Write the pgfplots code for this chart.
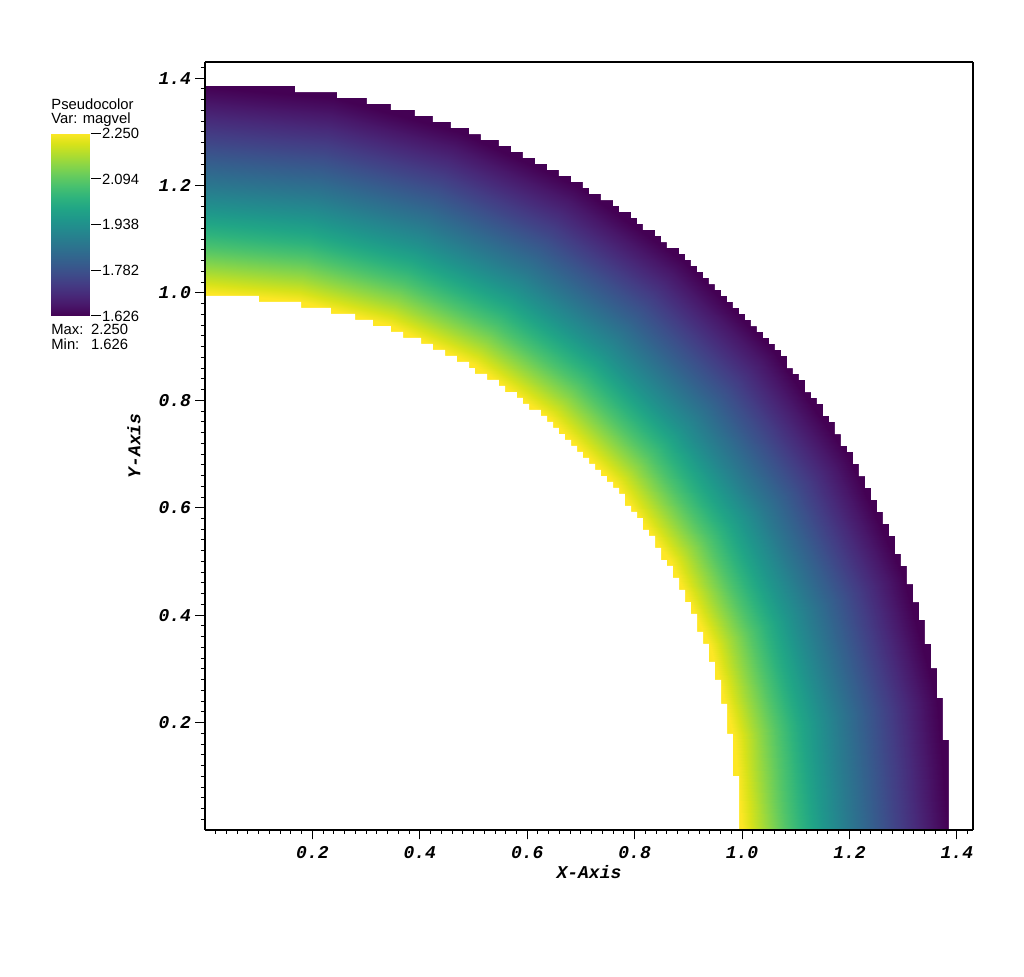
\documentclass[border=0pt]{standalone}
\usepackage{fontspec}
\setmainfont{Liberation Sans}
\newfontfamily\monofont{Liberation Mono}
\usepackage{pgfplots}
\pgfplotsset{compat=1.18}
\newcommand\tickfont{\monofont\bfseries\itshape\fontsize{9}{10}\selectfont}
\begin{document}
\begin{tikzpicture}
\begin{axis}[
  at={(0,0)}, anchor=south west,
  width=384pt, height=384pt, scale only axis,
  view={0}{90},
  xmin=0, xmax=1.43, ymin=0, ymax=1.43, zmin=-1, zmax=1,
  axis on top,
  xtick={0.2,0.4,0.6,0.8,1.0,1.2,1.4},
  xticklabels={0.2,0.4,0.6,0.8,1.0,1.2,1.4},
  ytick={0.2,0.4,0.6,0.8,1.0,1.2,1.4},
  yticklabels={0.2,0.4,0.6,0.8,1.0,1.2,1.4},
  ztick=\empty,
  minor xtick={0.02,0.04,...,1.425},
  minor ytick={0.02,0.04,...,1.425},
  xtick pos=left, ytick pos=left,
  tick align=outside,
  major tick length=4.75pt, minor tick length=2pt,
  tick style={black, line width=0.5pt},
  axis line style={line width=0.6pt},
  tick label style={font=\tickfont},
  yticklabel style={xshift=1.3pt},
  xlabel={X-Axis}, ylabel={Y-Axis},
  label style={font=\tickfont},
  xlabel style={at={(axis description cs:0.5,-0.0543)}, anchor=center},
  ylabel style={at={(axis description cs:-0.0924,0.5)}, anchor=center},
  colormap/viridis,
  point meta min=1.626, point meta max=2.25,
]
% magvel field on the annulus, sampled by radius (angle, radius, z, magvel)
\addplot3[surf, shader=interp, data cs=polar, mesh/cols=13, point meta=\thisrow{m}, forget plot] table {
t r z m
0 0.96 0 2.25
0 1.00 0 2.25
0 1.04 0 2.1635
0 1.08 0 2.0833
0 1.12 0 2.0089
0 1.16 0 1.9397
0 1.20 0 1.8750
0 1.24 0 1.8145
0 1.28 0 1.7578
0 1.32 0 1.7045
0 1.36 0 1.6544
0 1.384 0 1.626
0 1.415 0 1.626
10 0.96 0 2.25
10 1.00 0 2.25
10 1.04 0 2.1635
10 1.08 0 2.0833
10 1.12 0 2.0089
10 1.16 0 1.9397
10 1.20 0 1.8750
10 1.24 0 1.8145
10 1.28 0 1.7578
10 1.32 0 1.7045
10 1.36 0 1.6544
10 1.384 0 1.626
10 1.415 0 1.626
20 0.96 0 2.25
20 1.00 0 2.25
20 1.04 0 2.1635
20 1.08 0 2.0833
20 1.12 0 2.0089
20 1.16 0 1.9397
20 1.20 0 1.8750
20 1.24 0 1.8145
20 1.28 0 1.7578
20 1.32 0 1.7045
20 1.36 0 1.6544
20 1.384 0 1.626
20 1.415 0 1.626
30 0.96 0 2.25
30 1.00 0 2.25
30 1.04 0 2.1635
30 1.08 0 2.0833
30 1.12 0 2.0089
30 1.16 0 1.9397
30 1.20 0 1.8750
30 1.24 0 1.8145
30 1.28 0 1.7578
30 1.32 0 1.7045
30 1.36 0 1.6544
30 1.384 0 1.626
30 1.415 0 1.626
40 0.96 0 2.25
40 1.00 0 2.25
40 1.04 0 2.1635
40 1.08 0 2.0833
40 1.12 0 2.0089
40 1.16 0 1.9397
40 1.20 0 1.8750
40 1.24 0 1.8145
40 1.28 0 1.7578
40 1.32 0 1.7045
40 1.36 0 1.6544
40 1.384 0 1.626
40 1.415 0 1.626
50 0.96 0 2.25
50 1.00 0 2.25
50 1.04 0 2.1635
50 1.08 0 2.0833
50 1.12 0 2.0089
50 1.16 0 1.9397
50 1.20 0 1.8750
50 1.24 0 1.8145
50 1.28 0 1.7578
50 1.32 0 1.7045
50 1.36 0 1.6544
50 1.384 0 1.626
50 1.415 0 1.626
60 0.96 0 2.25
60 1.00 0 2.25
60 1.04 0 2.1635
60 1.08 0 2.0833
60 1.12 0 2.0089
60 1.16 0 1.9397
60 1.20 0 1.8750
60 1.24 0 1.8145
60 1.28 0 1.7578
60 1.32 0 1.7045
60 1.36 0 1.6544
60 1.384 0 1.626
60 1.415 0 1.626
70 0.96 0 2.25
70 1.00 0 2.25
70 1.04 0 2.1635
70 1.08 0 2.0833
70 1.12 0 2.0089
70 1.16 0 1.9397
70 1.20 0 1.8750
70 1.24 0 1.8145
70 1.28 0 1.7578
70 1.32 0 1.7045
70 1.36 0 1.6544
70 1.384 0 1.626
70 1.415 0 1.626
80 0.96 0 2.25
80 1.00 0 2.25
80 1.04 0 2.1635
80 1.08 0 2.0833
80 1.12 0 2.0089
80 1.16 0 1.9397
80 1.20 0 1.8750
80 1.24 0 1.8145
80 1.28 0 1.7578
80 1.32 0 1.7045
80 1.36 0 1.6544
80 1.384 0 1.626
80 1.415 0 1.626
90 0.96 0 2.25
90 1.00 0 2.25
90 1.04 0 2.1635
90 1.08 0 2.0833
90 1.12 0 2.0089
90 1.16 0 1.9397
90 1.20 0 1.8750
90 1.24 0 1.8145
90 1.28 0 1.7578
90 1.32 0 1.7045
90 1.36 0 1.6544
90 1.384 0 1.626
90 1.415 0 1.626
};
% inner staircase edge of the cell mesh (blank region inside)
\addplot3[fill=white, draw=none, forget plot] table[x index=0, y index=1, z expr=0] {
0 0
0.9943 0
0.9943 0.1005
0.9831 0.1005
0.9831 0.1788
0.9720 0.1788
0.9720 0.2346
0.9608 0.2346
0.9608 0.2793
0.9496 0.2793
0.9496 0.3128
0.9384 0.3128
0.9384 0.3463
0.9273 0.3463
0.9273 0.3687
0.9161 0.3687
0.9161 0.4022
0.9049 0.4022
0.9049 0.4245
0.8938 0.4245
0.8938 0.4469
0.8826 0.4469
0.8826 0.4692
0.8714 0.4692
0.8714 0.4916
0.8602 0.4916
0.8602 0.5027
0.8491 0.5027
0.8491 0.5251
0.8379 0.5251
0.8379 0.5474
0.8267 0.5474
0.8267 0.5586
0.8155 0.5586
0.8155 0.5809
0.8044 0.5809
0.8044 0.5921
0.7932 0.5921
0.7932 0.6033
0.7820 0.6033
0.7820 0.6256
0.7709 0.6256
0.7709 0.6368
0.7597 0.6368
0.7597 0.6480
0.7485 0.6480
0.7485 0.6591
0.7373 0.6591
0.7373 0.6703
0.7262 0.6703
0.7262 0.6815
0.7150 0.6815
0.7150 0.6927
0.7038 0.6927
0.7038 0.7038
0.6927 0.7038
0.6927 0.7150
0.6815 0.7150
0.6815 0.7262
0.6703 0.7262
0.6703 0.7373
0.6591 0.7373
0.6591 0.7485
0.6480 0.7485
0.6480 0.7597
0.6368 0.7597
0.6368 0.7709
0.6256 0.7709
0.6256 0.7820
0.6033 0.7820
0.6033 0.7932
0.5921 0.7932
0.5921 0.8044
0.5809 0.8044
0.5809 0.8155
0.5586 0.8155
0.5586 0.8267
0.5474 0.8267
0.5474 0.8379
0.5251 0.8379
0.5251 0.8491
0.5027 0.8491
0.5027 0.8602
0.4916 0.8602
0.4916 0.8714
0.4692 0.8714
0.4692 0.8826
0.4469 0.8826
0.4469 0.8938
0.4245 0.8938
0.4245 0.9049
0.4022 0.9049
0.4022 0.9161
0.3687 0.9161
0.3687 0.9273
0.3463 0.9273
0.3463 0.9384
0.3128 0.9384
0.3128 0.9496
0.2793 0.9496
0.2793 0.9608
0.2346 0.9608
0.2346 0.9720
0.1788 0.9720
0.1788 0.9831
0.1005 0.9831
0.1005 0.9943
0 0.9943
};
% outer staircase edge of the cell mesh (blank region outside)
\addplot3[fill=white, draw=none, forget plot] table[x index=0, y index=1, z expr=0] {
1.3853 0
1.3853 0.1676
1.3741 0.1676
1.3741 0.2458
1.3630 0.2458
1.3630 0.3016
1.3518 0.3016
1.3518 0.3463
1.3406 0.3463
1.3406 0.3910
1.3295 0.3910
1.3295 0.4245
1.3183 0.4245
1.3183 0.4580
1.3071 0.4580
1.3071 0.4916
1.2959 0.4916
1.2959 0.5139
1.2848 0.5139
1.2848 0.5474
1.2736 0.5474
1.2736 0.5698
1.2624 0.5698
1.2624 0.5921
1.2513 0.5921
1.2513 0.6145
1.2401 0.6145
1.2401 0.6368
1.2289 0.6368
1.2289 0.6591
1.2177 0.6591
1.2177 0.6815
1.2066 0.6815
1.2066 0.7038
1.1954 0.7038
1.1954 0.7150
1.1842 0.7150
1.1842 0.7373
1.1730 0.7373
1.1730 0.7597
1.1619 0.7597
1.1619 0.7709
1.1507 0.7709
1.1507 0.7932
1.1395 0.7932
1.1395 0.8044
1.1284 0.8044
1.1284 0.8155
1.1172 0.8155
1.1172 0.8379
1.1060 0.8379
1.1060 0.8491
1.0948 0.8491
1.0948 0.8602
1.0837 0.8602
1.0837 0.8826
1.0725 0.8826
1.0725 0.8938
1.0613 0.8938
1.0613 0.9049
1.0502 0.9049
1.0502 0.9161
1.0390 0.9161
1.0390 0.9273
1.0278 0.9273
1.0278 0.9384
1.0166 0.9384
1.0166 0.9496
1.0055 0.9496
1.0055 0.9608
0.9943 0.9608
0.9943 0.9720
0.9831 0.9720
0.9831 0.9831
0.9720 0.9831
0.9720 0.9943
0.9608 0.9943
0.9608 1.0055
0.9496 1.0055
0.9496 1.0166
0.9384 1.0166
0.9384 1.0278
0.9273 1.0278
0.9273 1.0390
0.9161 1.0390
0.9161 1.0502
0.9049 1.0502
0.9049 1.0613
0.8938 1.0613
0.8938 1.0725
0.8826 1.0725
0.8826 1.0837
0.8602 1.0837
0.8602 1.0948
0.8491 1.0948
0.8491 1.1060
0.8379 1.1060
0.8379 1.1172
0.8155 1.1172
0.8155 1.1284
0.8044 1.1284
0.8044 1.1395
0.7932 1.1395
0.7932 1.1507
0.7709 1.1507
0.7709 1.1619
0.7597 1.1619
0.7597 1.1730
0.7373 1.1730
0.7373 1.1842
0.7150 1.1842
0.7150 1.1954
0.7038 1.1954
0.7038 1.2066
0.6815 1.2066
0.6815 1.2177
0.6591 1.2177
0.6591 1.2289
0.6368 1.2289
0.6368 1.2401
0.6145 1.2401
0.6145 1.2513
0.5921 1.2513
0.5921 1.2624
0.5698 1.2624
0.5698 1.2736
0.5474 1.2736
0.5474 1.2848
0.5139 1.2848
0.5139 1.2959
0.4916 1.2959
0.4916 1.3071
0.4580 1.3071
0.4580 1.3183
0.4245 1.3183
0.4245 1.3295
0.3910 1.3295
0.3910 1.3406
0.3463 1.3406
0.3463 1.3518
0.3016 1.3518
0.3016 1.3630
0.2458 1.3630
0.2458 1.3741
0.1676 1.3741
0.1676 1.3853
0 1.3853
0 1.43
1.43 1.43
1.43 0
};
\end{axis}
% colour bar (legend of magvel)
\begin{axis}[
  at={(-77pt,257pt)}, anchor=south west,
  width=19.85pt, height=91.35pt, scale only axis,
  view={0}{90},
  xmin=0, xmax=1, ymin=1.626, ymax=2.25, zmin=-1, zmax=1,
  xtick=\empty, ztick=\empty,
  ytick={1.626,1.782,1.938,2.094,2.25},
  yticklabels={1.626,1.782,1.938,2.094,2.250},
  ytick pos=right, yticklabel pos=right,
  tick align=outside, major tick length=5pt,
  tick style={black, line width=0.5pt},
  axis line style={draw=none},
  yticklabel style={font=\fontsize{7.4}{8}\selectfont, inner xsep=0.5pt},
  colormap/viridis,
  point meta min=1.626, point meta max=2.25,
]
\addplot3[surf, shader=interp, mesh/cols=2, point meta=y, forget plot] coordinates {
(0,1.626,0) (1,1.626,0)
(0,2.25,0) (1,2.25,0)
};
\end{axis}
\begin{scope}[font=\fontsize{7.4}{8}\selectfont, every node/.style={inner sep=0pt, anchor=base west}]
\node at (-77pt,360.35pt) {Pseudocolor};
\node at (-77pt,353.35pt) {Var: magvel};
\node at (-77pt,247.85pt) {Max:};
\node at (-57.15pt,247.85pt) {2.250};
\node at (-77pt,240.35pt) {Min:};
\node at (-57.15pt,240.35pt) {1.626};
\end{scope}
\path (-102.5pt,-73.5pt) rectangle (409.5pt,415pt);
\end{tikzpicture}
\end{document}
